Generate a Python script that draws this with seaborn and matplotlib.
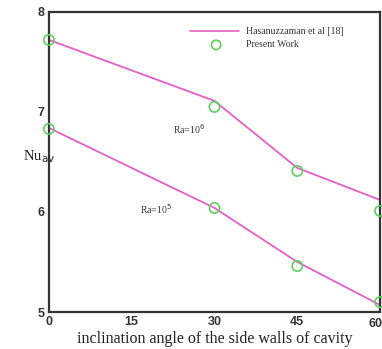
import matplotlib
matplotlib.use("Agg")
import matplotlib.pyplot as plt
from matplotlib.ticker import MultipleLocator
import seaborn as sns
import pandas as pd

# Inclination angle of the side walls (degrees)
angles = [0, 30, 45, 60]
angle_ticks = [0, 15, 30, 45, 60]
nu_ticks = [5, 6, 7, 8]

# Reference correlation (Hasanuzzaman et al.)
ref_high = [7.72, 7.11, 6.44, 6.12]
ref_low = [6.84, 6.04, 5.50, 5.07]

# Present computations
work_high = [7.72, 7.05, 6.41, 6.01]
work_low = [6.83, 6.04, 5.46, 5.10]

ref_df = pd.concat([
    pd.DataFrame({"angle": angles, "Nu": ref_high, "case": "high"}),
    pd.DataFrame({"angle": angles, "Nu": ref_low, "case": "low"}),
])
work_df = pd.DataFrame({"angle": angles * 2, "Nu": work_high + work_low})

sns.set_style("white")
line_color = "#e35fc7"
marker_color = "#5fcf5f"
tick_font = dict(fontfamily="Liberation Sans", fontweight="bold",
                 fontsize=9, color="#333333")

fig = plt.figure(figsize=(3.82, 3.49), dpi=100)
ax = fig.add_axes([0.128, 0.106, 0.867, 0.860])

sns.lineplot(data=ref_df, x="angle", y="Nu", units="case", estimator=None,
             color=line_color, lw=1.3, ax=ax, legend=False)
sns.scatterplot(data=work_df, x="angle", y="Nu", marker="o", s=55,
                facecolor="none", edgecolor=marker_color, linewidth=1.2,
                ax=ax, legend=False, zorder=3, clip_on=False)

ax.set_xlim(0, 60)
ax.set_ylim(5, 8)
# the last angle label is drawn separately so it stays inside the figure
ax.set_xticks(angle_ticks, [str(a) for a in angle_ticks[:-1]] + [""],
              **tick_font)
ax.set_yticks(nu_ticks, [str(v) for v in nu_ticks], **tick_font)
ax.xaxis.set_minor_locator(MultipleLocator(3))
ax.yaxis.set_minor_locator(MultipleLocator(0.2))
ax.tick_params(which="both", direction="in", top=False, right=False,
               colors="#333333", width=1.0)
ax.tick_params(which="major", length=5, pad=3)
ax.tick_params(which="minor", length=2.5, color="#aaaaaa")
ax.annotate(str(angle_ticks[-1]), xy=(angle_ticks[-1], 5), xycoords="data",
            xytext=(2, -4), textcoords="offset points",
            ha="right", va="top", **tick_font)

for s in ax.spines.values():
    s.set_color("#333333")
    s.set_linewidth(1.6)

serif = "Liberation Serif"
ax.set_xlabel("inclination angle of the side walls of cavity",
              fontfamily=serif, fontsize=11.5, color="#222222", labelpad=2)
ax.set_ylabel("")
fig.text(0.06, 0.55, r"Nu$_{\mathrm{av}}$", fontfamily=serif, fontsize=10.5,
         color="#222222", ha="left", va="center")

# Rayleigh number annotations
ax.text(22.5, 6.83, "Ra=10$^6$", fontfamily=serif, fontsize=7,
        color="#333333", ha="left", va="center")
ax.text(16.5, 6.03, "Ra=10$^5$", fontfamily=serif, fontsize=7,
        color="#333333", ha="left", va="center")

# Legend drawn in axes coordinates
ax.plot([0.425, 0.575], [0.935, 0.935], transform=ax.transAxes,
        color=line_color, lw=1.2)
ax.text(0.595, 0.935, "Hasanuzzaman et al [18]", transform=ax.transAxes,
        fontfamily=serif, fontsize=7, color="#333333", va="center")
ax.scatter([0.505], [0.89], transform=ax.transAxes, s=45, marker="o",
           facecolor="none", edgecolor=marker_color, linewidth=1.2)
ax.text(0.595, 0.89, "Present Work", transform=ax.transAxes,
        fontfamily=serif, fontsize=7, color="#333333", va="center")

fig.savefig("out.png", dpi=100)
